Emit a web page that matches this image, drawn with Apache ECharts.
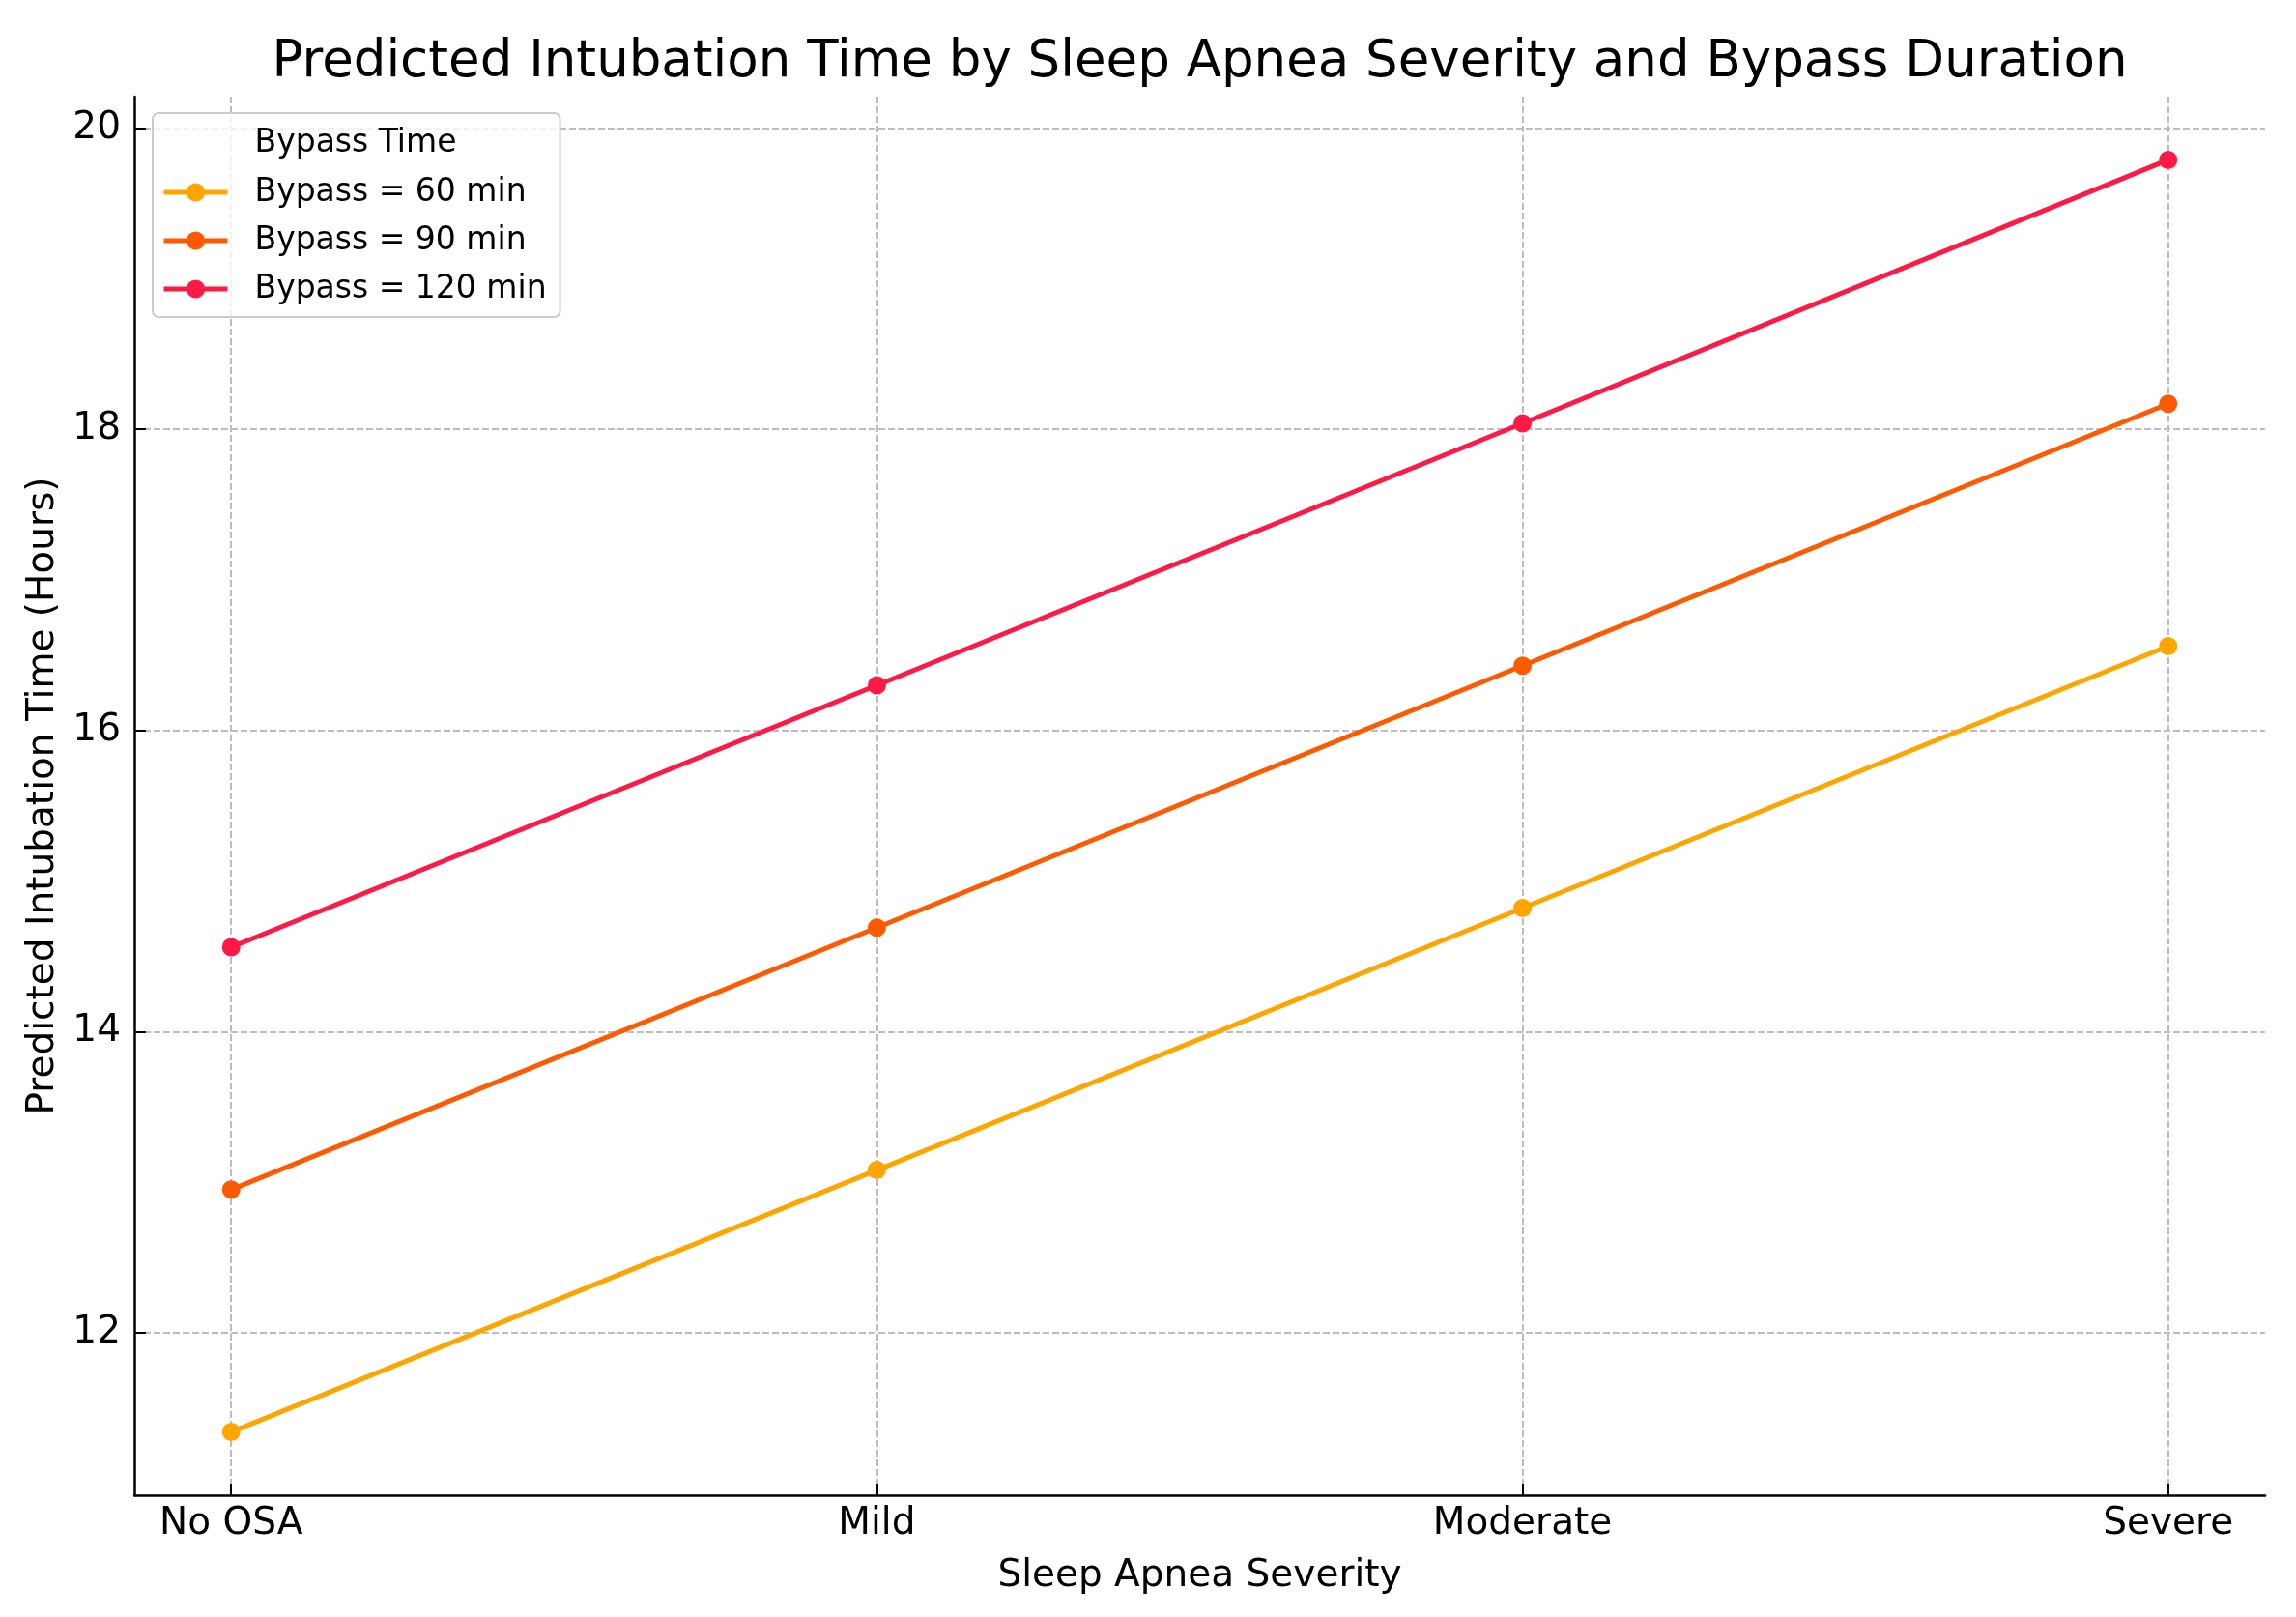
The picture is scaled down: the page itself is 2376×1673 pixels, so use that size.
<!DOCTYPE html>
<html>
<head>
<meta charset="utf-8">
<script src="https://cdn.jsdelivr.net/npm/echarts@6/dist/echarts.min.js"></script>
<style>
html,body{margin:0;padding:0;background:#fff;}
#chart{width:2376px;height:1673px;}
</style>
</head>
<body>
<div id="chart"></div>
<script>
const categories = ['No OSA', 'Mild', 'Moderate', 'Severe'];
const seriesNames = ['Bypass = 60 min', 'Bypass = 90 min', 'Bypass = 120 min'];
const bypass60 = [11.34, 13.08, 14.82, 16.56];
const bypass90 = [12.95, 14.69, 16.43, 18.17];
const bypass120 = [14.56, 16.30, 18.04, 19.79];
const yTicks = [12, 14, 16, 18, 20];
const colors = ['#FFA500', '#FF5A00', '#FF1A45'];

const FONT = 'DejaVu Sans';
const chart = echarts.init(document.getElementById('chart'), null, {renderer: 'canvas'});
const allSeries = [bypass60, bypass90, bypass120];
const catIdx = categories.map((c, i) => i);

const option = {
  animation: false,
  backgroundColor: '#ffffff',
  title: [
    {
      text: 'Predicted Intubation Time by Sleep Apnea Severity and Bypass Duration',
      left: 1241.5, top: 39, textAlign: 'center', padding: 0,
      textStyle: {fontFamily: FONT, fontSize: 53, fontWeight: 'normal', color: '#000'}
    },
    {
      text: 'Bypass Time',
      left: 368, top: 132, textAlign: 'center', padding: 0, z: 10,
      textStyle: {fontFamily: FONT, fontSize: 33, fontWeight: 'normal', color: '#000'}
    }
  ],
  legend: {
    orient: 'vertical',
    left: 158, top: 117,
    padding: [65.5, 14, 12.5, 9],
    itemWidth: 66, itemHeight: 24, itemGap: 17,
    backgroundColor: 'rgba(255,255,255,0.8)',
    borderColor: '#cccccc', borderWidth: 2, borderRadius: 6,
    lineStyle: {width: 5},
    textStyle: {fontFamily: FONT, fontSize: 33, color: '#000', lineHeight: 33, padding: [0, 0, 0, 23]},
    data: seriesNames
  },
  grid: {left: 139, right: 32, top: 100, bottom: 126, containLabel: false},
  xAxis: {
    type: 'value', min: -0.15, max: 3.15,
    name: 'Sleep Apnea Severity', nameLocation: 'middle', nameGap: 64,
    nameTextStyle: {fontFamily: FONT, fontSize: 39, color: '#000'},
    axisLine: {show: true, onZero: false, lineStyle: {color: '#000', width: 2.5}},
    axisTick: {show: true, inside: true, length: 12, lineStyle: {color: '#000', width: 2}, customValues: catIdx},
    axisLabel: {fontFamily: FONT, fontSize: 39, color: '#000', margin: 10, customValues: catIdx,
      formatter: v => categories[Math.round(v)]},
    splitLine: {show: true, lineStyle: {color: '#bdbdbd', width: 2, type: [7, 3]}}
  },
  yAxis: {
    type: 'value', min: 10.92, max: 20.21,
    name: 'Predicted Intubation Time (Hours)', nameLocation: 'middle', nameGap: 70, nameRotate: 90,
    nameTextStyle: {fontFamily: FONT, fontSize: 39, color: '#000'},
    axisLine: {show: true, onZero: false, lineStyle: {color: '#000', width: 2.5}},
    axisTick: {show: true, inside: true, length: 12, lineStyle: {color: '#000', width: 2}, customValues: yTicks},
    axisLabel: {fontFamily: FONT, fontSize: 39, color: '#000', margin: 14, customValues: yTicks},
    splitLine: {show: true, lineStyle: {color: '#bdbdbd', width: 2, type: [7, 3]}}
  },
  series: allSeries.map((vals, s) => ({
    name: seriesNames[s],
    type: 'line',
    data: vals.map((v, i) => [catIdx[i], v]),
    symbol: 'circle', symbolSize: 19, showSymbol: true,
    lineStyle: {color: colors[s], width: 5},
    itemStyle: {color: colors[s]},
    z: 3
  }))
};
chart.setOption(option);
</script>
</body>
</html>
